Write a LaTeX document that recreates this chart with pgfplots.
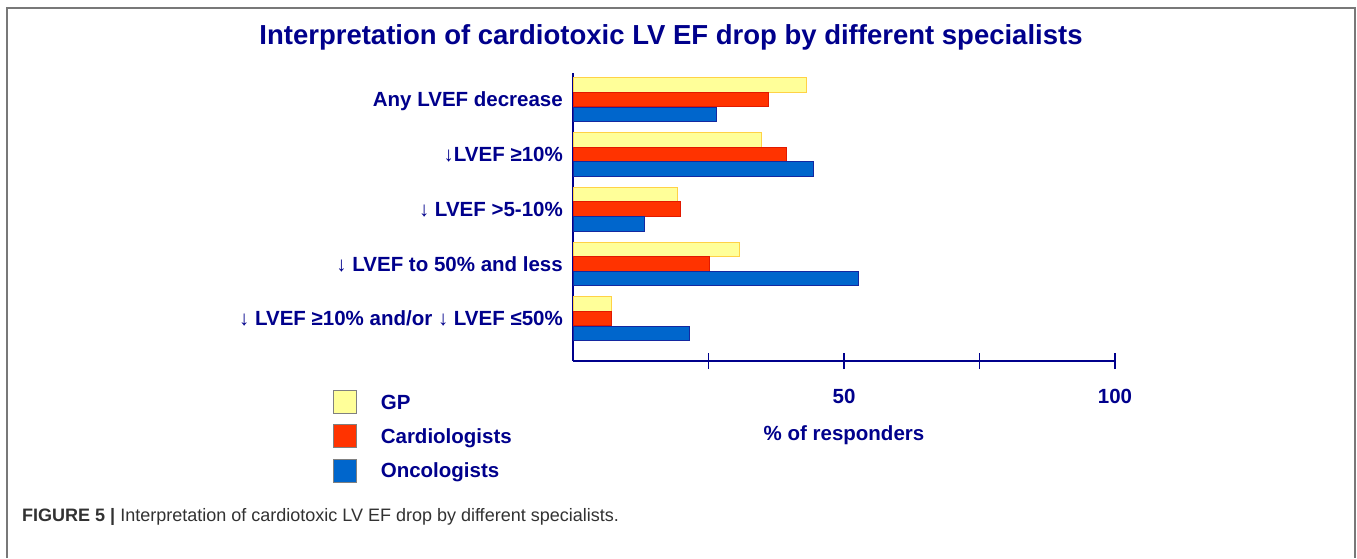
\documentclass[border=0pt]{standalone}
\usepackage{pgfplots}
\pgfplotsset{compat=1.18}
\usepackage{fontspec}
\setmainfont{Liberation Sans}
\definecolor{navy}{RGB}{0,0,140}
\definecolor{gpfill}{RGB}{255,255,153}
\definecolor{gpdraw}{RGB}{255,210,70}
\definecolor{cdfill}{RGB}{255,51,0}
\definecolor{cddraw}{RGB}{225,25,0}
\definecolor{onfill}{RGB}{0,102,204}
\definecolor{ondraw}{RGB}{20,40,160}
\definecolor{framec}{RGB}{120,120,120}
\definecolor{capc}{RGB}{50,50,50}
\begin{document}
\begin{tikzpicture}
\useasboundingbox (0,0) rectangle (1357pt,-558pt);
\fill[white] (0,0) rectangle (1357pt,-558pt);
\draw[framec, line width=2pt] (7pt,-558pt) -- (7pt,-8pt) -- (1355pt,-8pt) -- (1355pt,-558pt);
\node[anchor=base, text=navy, inner sep=0pt, font=\fontsize{27.5}{30}\selectfont\bfseries] at (671pt,-44pt) {Interpretation of cardiotoxic LV EF drop by different specialists};
\begin{axis}[
  at={(573pt,-361pt)}, anchor=south west,
  scale only axis, width=542pt, height=288pt,
  xmin=0, xmax=100, ymin=-0.776, ymax=4.484,
  axis x line*=bottom, axis y line*=left,
  axis line style={navy, line width=1.8pt},
  every outer x axis line/.append style={navy, line width=1.8pt},
  every outer y axis line/.append style={navy, line width=1.8pt},
  xbar, bar width=0.265,
  xtick={25,50,75,100}, xticklabels={,50,,100},
  xtick align=center, major tick length=16pt,
  every major tick/.append style={navy, line width=1.5pt},
  major x tick style={navy, line width=1.5pt},
  ytick={0,1,2,3,4},
  yticklabels={{↓ LVEF ≥10\% and/or ↓ LVEF ≤50\%},{↓ LVEF to 50\% and less},{↓ LVEF >5-10\%},{↓LVEF ≥10\%},{Any LVEF decrease}},
  ytick style={draw=none},
  yticklabel style={anchor=east, inner sep=0pt, xshift=6pt, text height=14.6pt, text depth=0pt, text=navy, font=\fontsize{20.5}{20.5}\selectfont\bfseries},
  xticklabel style={anchor=base, inner sep=0pt, yshift=-34pt, text=navy, font=\fontsize{20.5}{20.5}\selectfont\bfseries},
  xlabel={\% of responders},
  xlabel style={at={(axis description cs:0.5,0)}, anchor=base, inner sep=0pt, yshift=-79pt, text=navy, font=\fontsize{20.5}{20.5}\selectfont\bfseries},
  legend image code/.code={\draw[#1, draw=black!50, line width=0.8pt] (0pt,-11.5pt) rectangle (23pt,11.5pt);},
  legend cell align=left,
  legend style={draw=none, fill=none, at={(axis description cs:-0.4428,-0.1007)}, anchor=north west, inner sep=0pt, outer sep=0pt, row sep=10.5pt, font=\fontsize{20.5}{20.5}\selectfont\bfseries, text=navy, nodes={inner sep=0pt, text height=14.6pt, text depth=0pt}, /tikz/every odd column/.append style={column sep=24pt}},
  clip=false,
]
\addplot[fill=gpfill, draw=gpdraw, line width=1pt, bar shift=0.265] coordinates {(43.1,4) (34.8,3) (19.3,2) (30.7,1) (7.1,0)};
\addplot[fill=cdfill, draw=cddraw, line width=1pt, bar shift=0] coordinates {(36.1,4) (39.4,3) (19.8,2) (25.2,1) (7.1,0)};
\addplot[fill=onfill, draw=ondraw, line width=1pt, bar shift=-0.27] coordinates {(26.5,4) (44.4,3) (13.2,2) (52.7,1) (21.5,0)};
\legend{GP,Cardiologists,Oncologists}
\end{axis}
\node[anchor=base west, inner sep=0pt, text=capc] at (22pt,-521pt) {\fontsize{18}{18}\selectfont\textbf{FIGURE 5 |} Interpretation of cardiotoxic LV EF drop by different specialists.};
\end{tikzpicture}
\end{document}
